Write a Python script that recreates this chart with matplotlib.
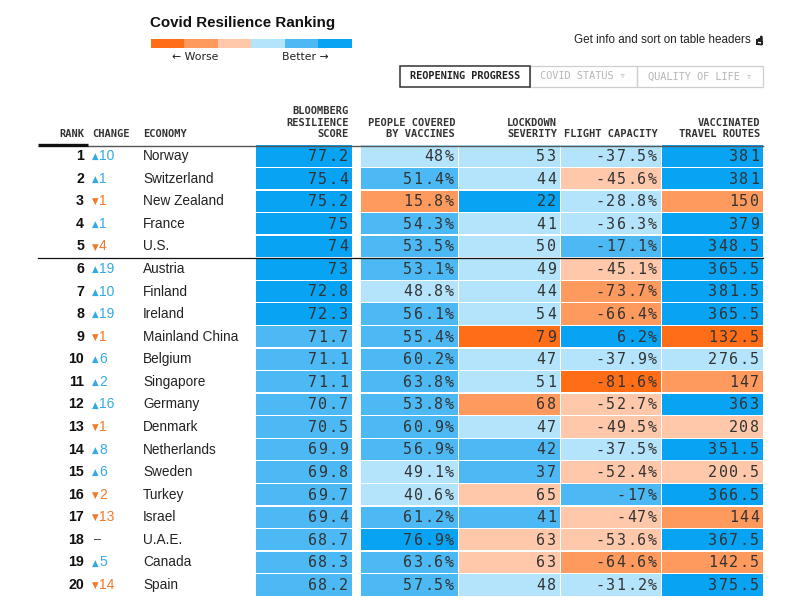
import matplotlib
matplotlib.use('Agg')
import matplotlib.pyplot as plt
from matplotlib.patches import Rectangle

# ---- data ----
ranks = list(range(1, 21))
changes = [10, 1, -1, 1, -4, 19, 10, 19, -1, 6, 2, 16, -1, 8, 6, -2, -13, 0, 5, -14]
economies = ['Norway', 'Switzerland', 'New Zealand', 'France', 'U.S.', 'Austria', 'Finland',
             'Ireland', 'Mainland China', 'Belgium', 'Singapore', 'Germany', 'Denmark',
             'Netherlands', 'Sweden', 'Turkey', 'Israel', 'U.A.E.', 'Canada', 'Spain']
score = [77.2, 75.4, 75.2, 75, 74, 73, 72.8, 72.3, 71.7, 71.1, 71.1, 70.7, 70.5, 69.9,
         69.8, 69.7, 69.4, 68.7, 68.3, 68.2]
vaccines = [48, 51.4, 15.8, 54.3, 53.5, 53.1, 48.8, 56.1, 55.4, 60.2, 63.8, 53.8, 60.9,
            56.9, 49.1, 40.6, 61.2, 76.9, 63.6, 57.5]
lockdown = [53, 44, 22, 41, 50, 49, 44, 54, 79, 47, 51, 68, 47, 42, 37, 65, 41, 63, 63, 48]
flight = [-37.5, -45.6, -28.8, -36.3, -17.1, -45.1, -73.7, -66.4, 6.2, -37.9, -81.6, -52.7,
          -49.5, -37.5, -52.4, -17, -47, -53.6, -64.6, -31.2]
routes = [381, 381, 150, 379, 348.5, 365.5, 381.5, 365.5, 132.5, 276.5, 147, 363, 208,
          351.5, 200.5, 366.5, 144, 367.5, 142.5, 375.5]

# colour level per cell, 0 = worst ... 5 = best
score_lvl = [5] * 8 + [4] * 12
vacc_lvl = [3, 4, 1, 4, 4, 4, 3, 4, 4, 4, 4, 4, 4, 4, 3, 3, 4, 5, 4, 4]
lock_lvl = [3, 3, 5, 3, 3, 3, 3, 3, 0, 3, 3, 1, 3, 4, 4, 2, 4, 2, 2, 3]
flight_lvl = [3, 2, 3, 3, 4, 2, 1, 1, 5, 3, 0, 2, 2, 3, 2, 4, 2, 2, 1, 3]
routes_lvl = [5, 5, 1, 5, 5, 5, 5, 5, 0, 3, 1, 5, 2, 5, 2, 5, 1, 5, 1, 5]

palette = ['#ff6e17', '#ff9a5e', '#ffc8aa', '#b3e4fb', '#4cb9f5', '#08a3f3']

col_names = ['BLOOMBERG\nRESILIENCE\nSCORE', 'PEOPLE COVERED\nBY VACCINES',
             'LOCKDOWN\nSEVERITY', 'FLIGHT CAPACITY', 'VACCINATED\nTRAVEL ROUTES']

# ---- layout (pixels) ----
W, H = 800, 602
fig = plt.figure(figsize=(W / 100, H / 100), dpi=100)
ax = fig.add_axes([0, 0, 1, 1])
ax.set_xlim(0, W)
ax.set_ylim(H, 0)
ax.axis('off')

sans = 'Liberation Sans'
mono = 'DejaVu Sans Mono'
up_c, down_c = '#33a9e6', '#f07a2a'

row0, step = 156.2, 22.57
cols = [(256, 352), (361, 458), (459, 560), (561, 661), (662, 763)]


def mono_right(x_right, y, s, adv, **kw):
    # monospace text with wider letter spacing, right aligned
    n = len(s)
    for i, ch in enumerate(s):
        ax.text(x_right - (n - i - 0.5) * adv, y, ch, ha='center', va='center',
                family=mono, **kw)


# title + legend
ax.text(150, 23, 'Covid Resilience Ranking', fontsize=10.9, fontweight='bold',
        family=sans, color='#111', va='center', ha='left')
seg = (352 - 150.7) / len(palette)
for i, c in enumerate(palette):
    ax.add_patch(Rectangle((150.7 + i * seg, 38.6), seg, 9, color=c, lw=0))
ax.text(172, 57, '\u2190 Worse', fontsize=7.8, family=['DejaVu Sans'], color='#222',
        va='center', ha='left')
ax.text(329, 57, 'Better \u2192', fontsize=7.8, family=['DejaVu Sans'], color='#222',
        va='center', ha='right')

ax.text(751, 40, 'Get info and sort on table headers', fontsize=8.4, family=sans,
        color='#222', va='center', ha='right')
ax.plot([759], [40], marker='$\u261d$', ms=6, color='#222')

# tabs
tabs = [('REOPENING PROGRESS', 400, 529.5, True),
        ('COVID STATUS \u25bf', 529.5, 637, False),
        ('QUALITY OF LIFE \u25bf', 637, 762.7, False)]
for label, x0, x1, active in tabs:
    ax.add_patch(Rectangle((x0, 65.5), x1 - x0, 21, fill=False,
                           ec='#333' if active else '#cfcfcf', lw=1.1 if active else 0.9,
                           zorder=3 if active else 2))
    ax.text((x0 + x1) / 2, 76.3, label, fontsize=7.4, family=mono,
            fontweight='bold' if active else 'normal',
            color='#222' if active else '#b5b5b5', ha='center', va='center')

# column headers
hdr_kw = dict(fontsize=7.5, family=mono, color='#333', va='center', fontweight='bold')
ax.text(84, 134.3, 'RANK', ha='right', **hdr_kw)
ax.text(92, 134.3, 'CHANGE', ha='left', **hdr_kw)
ax.text(143, 134.3, 'ECONOMY', ha='left', **hdr_kw)
for (x0, x1), name in zip(cols, col_names):
    lines = name.split('\n')
    for k, ln in enumerate(lines):
        yy = 134.3 - (len(lines) - 1 - k) * 11.7
        ax.text(x1 - 3, yy, ln, ha='right', **hdr_kw)

# cells
columns = [
    ([f'{v:g}' for v in score], score_lvl),
    ([f'{v:g}' + '%' for v in vaccines], vacc_lvl),
    ([f'{v:g}' for v in lockdown], lock_lvl),
    ([f'{v:g}' + '%' for v in flight], flight_lvl),
    ([f'{v:g}' for v in routes], routes_lvl),
]
for r in range(len(ranks)):
    yc = row0 + r * step
    for (x0, x1), (labels, lvls) in zip(cols, columns):
        ax.add_patch(Rectangle((x0, yc - step / 2 + 0.5), x1 - x0, step - 1.2,
                               color=palette[lvls[r]], lw=0))
        mono_right(x1 - 3.5, yc + 0.3, labels[r], 10.4, fontsize=10.8, color='#333')

    ax.text(84, yc, str(ranks[r]), ha='right', va='center', fontsize=10.2,
            fontweight='bold', family=sans, color='#111')
    ch = changes[r]
    if ch > 0:
        ax.text(95, yc + 0.5, '\u25b2', fontsize=6.2, family=['DejaVu Sans'], color=up_c,
                ha='center', va='center')
        ax.text(99, yc, str(ch), fontsize=10, family=sans, color=up_c, ha='left', va='center')
    elif ch < 0:
        ax.text(95, yc + 0.5, '\u25bc', fontsize=6.2, family=['DejaVu Sans'], color=down_c,
                ha='center', va='center')
        ax.text(99, yc, str(-ch), fontsize=10, family=sans, color=down_c, ha='left', va='center')
    else:
        ax.text(94, yc, '\u2013', fontsize=9, family=sans, color='#333', ha='left', va='center')
    ax.text(143, yc, economies[r], fontsize=9.8, family=sans, color='#222',
            ha='left', va='center')

# rules
ax.plot([88, 763], [145.5, 145.5], color='#555', lw=1.0, zorder=4)
ax.plot([38, 88], [145.2, 145.2], color='#111', lw=2.4, zorder=5, solid_capstyle='butt')
y_cut = row0 + 4.5 * step
ax.plot([38, 763], [y_cut, y_cut], color='#111', lw=0.9, zorder=5)

fig.savefig('out.png', dpi=100, facecolor='white')
